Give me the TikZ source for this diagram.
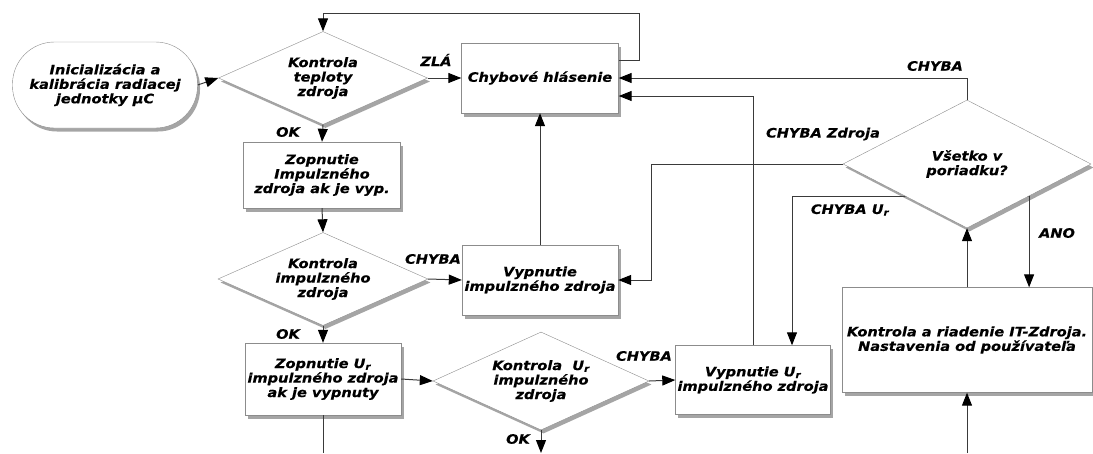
\documentclass[tikz,border=0pt]{standalone}
\usepackage{fontspec}
\setmainfont{DejaVu Sans}[FakeStretch=1.12,FakeBold=0.4]
\usetikzlibrary{shapes.geometric,shadows,arrows.meta,backgrounds}
\definecolor{edgegray}{HTML}{8C8C8C}
\definecolor{wiregray}{HTML}{3A3A3A}
\begin{document}
\begin{tikzpicture}[x=1pt,y=-1pt,
    font=\fontsize{13}{14.5}\selectfont\bfseries\itshape,
    box/.style={rectangle,draw=edgegray,fill=white,align=center,inner sep=2pt,
      drop shadow={shadow xshift=2.5pt,shadow yshift=-3.5pt,opacity=.5,fill=black!70}},
    test/.style={diamond,draw=edgegray,fill=white,align=center,inner sep=0pt,aspect=2.2,
      drop shadow={shadow xshift=2.5pt,shadow yshift=-3.5pt,opacity=.5,fill=black!70}},
    wire/.style={draw=wiregray,line width=1pt,-{Triangle[length=13pt,width=10pt,color=black]}},
    lbl/.style={inner sep=0pt}]
  \useasboundingbox (0,0) rectangle (1093,453);
  \node[box,rounded corners=42pt,minimum width=185,minimum height=86] (start) at (105,85) {Inicializácia a\\kalibrácia radiacej\\jednotky µC};
  \node[test,minimum width=209,minimum height=93] (kt) at (323,78) {Kontrola\\teploty\\zdroja};
  \node[box,minimum width=157,minimum height=70] (chyb) at (540,78) {Chybové hlásenie};
  \node[box,minimum width=157,minimum height=66] (zi) at (322,175) {Zopnutie\\Impulzného\\zdroja ak je vyp.};
  \node[test,minimum width=210,minimum height=93] (ki) at (323,279) {Kontrola\\impulzného\\zdroja};
  \node[box,minimum width=156,minimum height=70] (vi) at (540,280) {Vypnutie\\impulzného zdroja};
  \node[box,minimum width=156,minimum height=72] (zu) at (323,379) {Zopnutie U\textsubscript{r}\\impulzného zdroja\\ak je vypnuty};
  \node[test,minimum width=216,minimum height=98] (ku) at (541,381) {Kontrola~ U\textsubscript{r}\\impulzného\\zdroja};
  \node[box,minimum width=155,minimum height=69] (vu) at (753,380) {Vypnutie U\textsubscript{r}\\impulzného zdroja};
  \node[test,minimum width=248,minimum height=128] (vs) at (967,164) {Všetko v\\poriadku?};
  \node[box,minimum width=250,minimum height=105] (it) at (967,340) {Kontrola a riadenie IT-Zdroja.\\Nastavenia od používateľa};
  % free ends
  \coordinate (loop) at (639,13);
  \coordinate (zuout) at (323,453);
  \coordinate (kuout) at (541,453);
  \coordinate (itin) at (967,453);
  % labels
  \node[lbl] (ok1) at (288,132) {OK};
  \node[lbl] (zla) at (436,60) {ZLÁ};
  \node[lbl] (chyba1) at (433,259) {CHYBA};
  \node[lbl] (ok2) at (288,334) {OK};
  \node[lbl] (chyba2) at (644,356) {CHYBA};
  \node[lbl] (ok3) at (518,439) {OK};
  \node[lbl] (chybavs) at (935,66) {CHYBA};
  \node[lbl] (chybazdroja) at (823,134) {CHYBA Zdroja};
  \node[lbl] (chybaur) at (850,210) {CHYBA U\textsubscript{r}};
  \node[lbl] (ano) at (1057,233) {ANO};
  % connectors
  \begin{pgfonlayer}{background}
    \draw[wire] (vs.south east) -| ([xshift=39pt]vu.north);
  \end{pgfonlayer}
  \draw[wire] (start.east) -- (kt.west);
  \draw[wire] (kt.east) -- (chyb.west);
  \draw[wire] ([yshift=-18pt]chyb.north east) -| (loop) -| (kt.north);
  \draw[wire] (kt.south) -- (zi.north);
  \draw[wire] (zi.south) -- (ki.north);
  \draw[wire] (ki.east) -- (vi.west);
  \draw[wire] (vi.north) -- (chyb.south);
  \draw[wire] (ki.south) -- (zu.north);
  \draw[wire] (zu.east) -- (ku.west);
  \draw[wire] (ku.east) -- (vu.west);
  \draw[wire,-] (zu.south) -- (zuout);
  \draw[wire] (ku.south) -- (kuout);
  \draw[wire] (vu.north) |- ([yshift=-18pt]chyb.east);
  \draw[wire] (vs.north) |- (chyb.east);
  \draw[wire] (vs.west) -| ([xshift=33pt]vi.east) -- (vi.east);
  \draw[wire] (vs.south east) -- (vs.south east |- it.north);
  \draw[wire] (it.north) -- (vs.south);
  \draw[wire] (itin) -- (it.south);
\end{tikzpicture}
\end{document}
